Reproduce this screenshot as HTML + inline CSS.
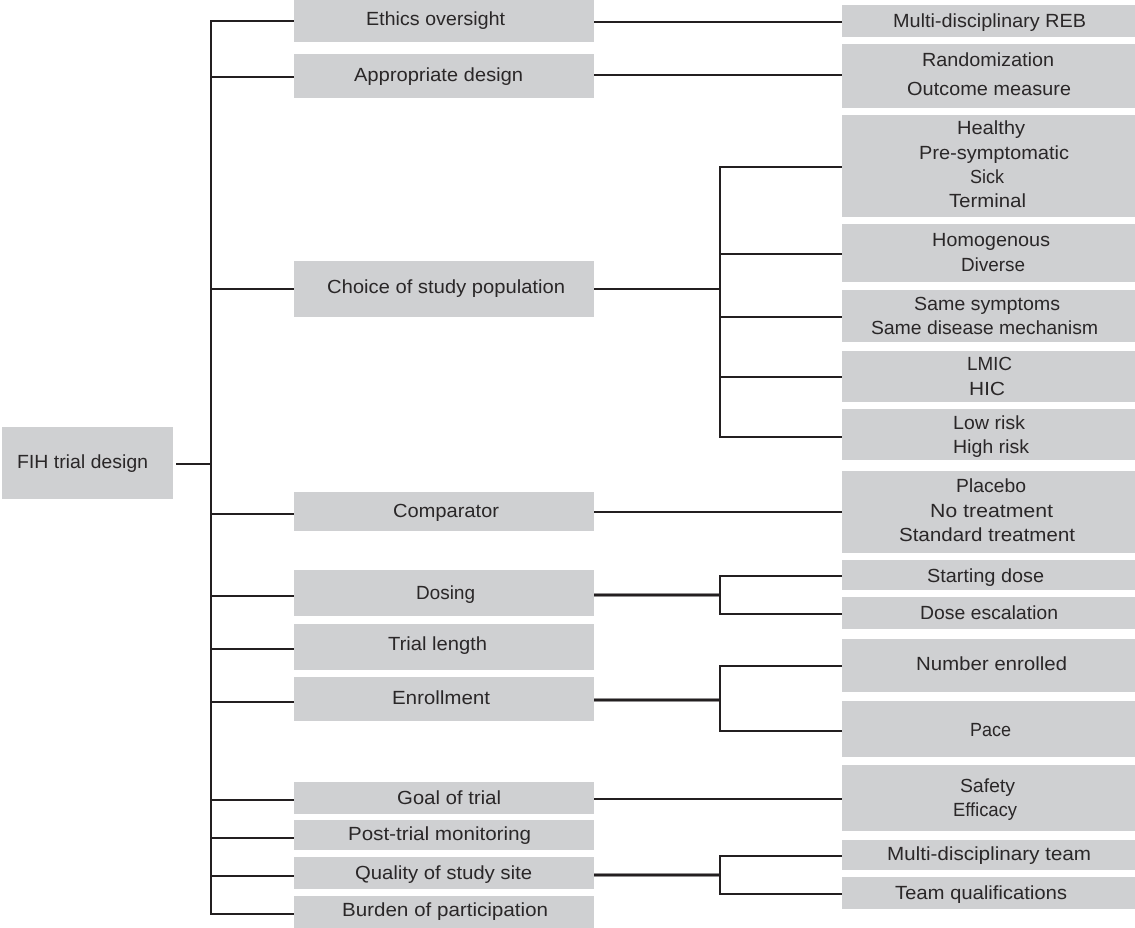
<!DOCTYPE html>
<html>
<head>
<meta charset="utf-8">
<style>
html,body{margin:0;padding:0;background:#fff;}
svg{display:block;}
text{font-family:"Liberation Sans",sans-serif;font-size:19px;fill:#2a2728;text-rendering:geometricPrecision;}
rect{fill:#cfd0d2;}
line{stroke:#231f20;stroke-width:2;}
line.thick{stroke-width:3;}
</style>
</head>
<body>
<svg width="1135" height="928" viewBox="0 0 1135 928" xmlns="http://www.w3.org/2000/svg">
<!-- boxes -->
<rect x="2" y="427" width="171" height="72"/>
<rect x="294" y="0" width="300" height="42"/>
<rect x="294" y="54" width="300" height="44"/>
<rect x="294" y="261" width="300" height="56"/>
<rect x="294" y="492" width="300" height="39"/>
<rect x="294" y="570" width="300" height="46"/>
<rect x="294" y="624" width="300" height="46"/>
<rect x="294" y="677" width="300" height="44"/>
<rect x="294" y="782" width="300" height="32"/>
<rect x="294" y="820" width="300" height="30"/>
<rect x="294" y="857" width="300" height="32"/>
<rect x="294" y="896" width="300" height="32"/>
<rect x="842" y="5" width="293" height="32"/>
<rect x="842" y="44" width="293" height="64"/>
<rect x="842" y="115" width="293" height="102"/>
<rect x="842" y="224" width="293" height="58"/>
<rect x="842" y="290" width="293" height="52"/>
<rect x="842" y="351" width="293" height="51"/>
<rect x="842" y="409" width="293" height="51"/>
<rect x="842" y="471" width="293" height="82"/>
<rect x="842" y="560" width="293" height="30"/>
<rect x="842" y="597" width="293" height="32"/>
<rect x="842" y="639" width="293" height="53"/>
<rect x="842" y="701" width="293" height="56"/>
<rect x="842" y="765" width="293" height="66"/>
<rect x="842" y="840" width="293" height="30"/>
<rect x="842" y="877" width="293" height="32"/>
<!-- trunk -->
<line x1="211" y1="20" x2="211" y2="915"/>
<line x1="176" y1="464" x2="211" y2="464"/>
<line x1="211" y1="21" x2="294" y2="21"/>
<line x1="211" y1="77" x2="294" y2="77"/>
<line x1="211" y1="289" x2="294" y2="289"/>
<line x1="211" y1="514" x2="294" y2="514"/>
<line x1="211" y1="596" x2="294" y2="596"/>
<line x1="211" y1="649" x2="294" y2="649"/>
<line x1="211" y1="702" x2="294" y2="702"/>
<line x1="211" y1="800" x2="294" y2="800"/>
<line x1="211" y1="838" x2="294" y2="838"/>
<line x1="211" y1="876" x2="294" y2="876"/>
<line x1="211" y1="914" x2="294" y2="914"/>
<!-- right connectors -->
<line x1="594" y1="22" x2="842" y2="22"/>
<line x1="594" y1="75" x2="842" y2="75"/>
<line x1="594" y1="289" x2="720" y2="289"/>
<line x1="720" y1="166" x2="720" y2="438"/>
<line x1="720" y1="167" x2="842" y2="167"/>
<line x1="720" y1="254" x2="842" y2="254"/>
<line x1="720" y1="317" x2="842" y2="317"/>
<line x1="720" y1="377" x2="842" y2="377"/>
<line x1="720" y1="437" x2="842" y2="437"/>
<line x1="594" y1="512" x2="842" y2="512"/>
<line class="thick" x1="594" y1="595" x2="720" y2="595"/>
<line x1="720" y1="575" x2="720" y2="615"/>
<line x1="720" y1="576" x2="842" y2="576"/>
<line x1="720" y1="614" x2="842" y2="614"/>
<line class="thick" x1="594" y1="700" x2="720" y2="700"/>
<line x1="720" y1="665" x2="720" y2="732"/>
<line x1="720" y1="666" x2="842" y2="666"/>
<line x1="720" y1="731" x2="842" y2="731"/>
<line x1="594" y1="799" x2="842" y2="799"/>
<line class="thick" x1="594" y1="875" x2="720" y2="875"/>
<line x1="720" y1="855" x2="720" y2="895"/>
<line x1="720" y1="856" x2="842" y2="856"/>
<line x1="720" y1="894" x2="842" y2="894"/>
<!-- labels -->
<text x="17" y="468" textLength="131" lengthAdjust="spacingAndGlyphs">FIH trial design</text>
<text x="366" y="25" textLength="139" lengthAdjust="spacingAndGlyphs">Ethics oversight</text>
<text x="354" y="81" textLength="169" lengthAdjust="spacingAndGlyphs">Appropriate design</text>
<text x="327" y="293" textLength="238" lengthAdjust="spacingAndGlyphs">Choice of study population</text>
<text x="393" y="517" textLength="106" lengthAdjust="spacingAndGlyphs">Comparator</text>
<text x="416" y="599" textLength="59" lengthAdjust="spacingAndGlyphs">Dosing</text>
<text x="388" y="650" textLength="99" lengthAdjust="spacingAndGlyphs">Trial length</text>
<text x="392" y="704" textLength="98" lengthAdjust="spacingAndGlyphs">Enrollment</text>
<text x="397" y="804" textLength="104" lengthAdjust="spacingAndGlyphs">Goal of trial</text>
<text x="348" y="840" textLength="183" lengthAdjust="spacingAndGlyphs">Post-trial monitoring</text>
<text x="355" y="879" textLength="177" lengthAdjust="spacingAndGlyphs">Quality of study site</text>
<text x="342" y="916" textLength="206" lengthAdjust="spacingAndGlyphs">Burden of participation</text>
<text x="893" y="27" textLength="193" lengthAdjust="spacingAndGlyphs">Multi-disciplinary REB</text>
<text x="922" y="66" textLength="132" lengthAdjust="spacingAndGlyphs">Randomization</text>
<text x="907" y="95" textLength="164" lengthAdjust="spacingAndGlyphs">Outcome measure</text>
<text x="957" y="134" textLength="68" lengthAdjust="spacingAndGlyphs">Healthy</text>
<text x="919" y="159" textLength="150" lengthAdjust="spacingAndGlyphs">Pre-symptomatic</text>
<text x="970" y="183" textLength="34" lengthAdjust="spacingAndGlyphs">Sick</text>
<text x="949" y="207" textLength="77" lengthAdjust="spacingAndGlyphs">Terminal</text>
<text x="932" y="246" textLength="118" lengthAdjust="spacingAndGlyphs">Homogenous</text>
<text x="961" y="271" textLength="64" lengthAdjust="spacingAndGlyphs">Diverse</text>
<text x="914" y="310" textLength="146" lengthAdjust="spacingAndGlyphs">Same symptoms</text>
<text x="871" y="334" textLength="227" lengthAdjust="spacingAndGlyphs">Same disease mechanism</text>
<text x="967" y="370" textLength="45" lengthAdjust="spacingAndGlyphs">LMIC</text>
<text x="969" y="395" textLength="36" lengthAdjust="spacingAndGlyphs">HIC</text>
<text x="953" y="429" textLength="72" lengthAdjust="spacingAndGlyphs">Low risk</text>
<text x="953" y="453" textLength="76" lengthAdjust="spacingAndGlyphs">High risk</text>
<text x="956" y="492" textLength="70" lengthAdjust="spacingAndGlyphs">Placebo</text>
<text x="930" y="517" textLength="123" lengthAdjust="spacingAndGlyphs">No treatment</text>
<text x="899" y="541" textLength="176" lengthAdjust="spacingAndGlyphs">Standard treatment</text>
<text x="927" y="582" textLength="117" lengthAdjust="spacingAndGlyphs">Starting dose</text>
<text x="920" y="619" textLength="138" lengthAdjust="spacingAndGlyphs">Dose escalation</text>
<text x="916" y="670" textLength="151" lengthAdjust="spacingAndGlyphs">Number enrolled</text>
<text x="970" y="736" textLength="41" lengthAdjust="spacingAndGlyphs">Pace</text>
<text x="960" y="792" textLength="55" lengthAdjust="spacingAndGlyphs">Safety</text>
<text x="953" y="816" textLength="64" lengthAdjust="spacingAndGlyphs">Efficacy</text>
<text x="887" y="860" textLength="204" lengthAdjust="spacingAndGlyphs">Multi-disciplinary team</text>
<text x="895" y="899" textLength="172" lengthAdjust="spacingAndGlyphs">Team qualifications</text>
</svg>
</body>
</html>
